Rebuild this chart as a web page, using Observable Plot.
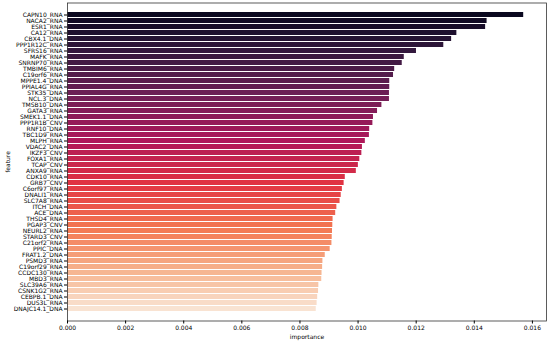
<!DOCTYPE html>
<html><head><meta charset="utf-8">
<script src="https://cdn.jsdelivr.net/npm/d3@7"></script>
<script src="https://cdn.jsdelivr.net/npm/@observablehq/plot@0.6"></script>
<style>body{margin:0;background:#fff}</style>
</head><body><div id="chart"></div>
<script>
const features = ["CAPN10_RNA","NACA2_RNA","ESR1_RNA","CA12_RNA","CBX4.1_DNA","PPP1R12C_RNA","SFRS16_RNA","MAFK_RNA","SNRNP70_RNA","TMBIM6_RNA","C19orf6_RNA","MPPE1.4_DNA","PPIAL4G_RNA","STK35_DNA","NCL.3_DNA","TMSB10_DNA","GATA3_RNA","SMEK1.1_DNA","PPP1R1B_CNV","RNF10_DNA","TBC1D9_RNA","MLPH_RNA","VDAC2_DNA","IKZF3_CNV","FOXA1_RNA","TCAP_CNV","ANXA9_RNA","CDK10_RNA","GRB7_CNV","C6orf97_RNA","DNALI1_RNA","SLC7A8_RNA","ITCH_DNA","ACE_DNA","THSD4_RNA","PGAP3_CNV","NEURL2_RNA","STARD3_CNV","C21orf2_RNA","PPIC_DNA","FRAT1.2_DNA","PSMD3_RNA","C19orf29_RNA","CCDC130_RNA","MBD3_RNA","SLC39A6_RNA","CSNK1G2_RNA","CEBPB.1_DNA","DUS3L_RNA","DNAJC14.1_DNA"];
const importance = [0.01570,0.01444,0.01439,0.01340,0.01322,0.01295,0.01201,0.01159,0.01152,0.01126,0.01122,0.01109,0.01109,0.01108,0.01108,0.01082,0.01067,0.01053,0.01051,0.01040,0.01039,0.01025,0.01015,0.01013,0.01006,0.01001,0.00994,0.00956,0.00952,0.00946,0.00942,0.00938,0.00927,0.00923,0.00914,0.00913,0.00912,0.00911,0.00910,0.00904,0.00887,0.00879,0.00878,0.00876,0.00875,0.00865,0.00864,0.00861,0.00859,0.00856];
const xTicks = [0,0.002,0.004,0.006,0.008,0.010,0.012,0.014,0.016];
const rocketStops = ["#03051a","#35193e","#701f57","#ad1759","#e13342","#f37651","#f6b48f","#faebdd"];

const rocket = d3.piecewise(d3.interpolateRgb, rocketStops);
const colors = features.map((f, i) => rocket((i + 1) / (features.length + 1)));
const data = features.map((f, i) => ({feature: f, importance: importance[i]}));
const xMax = d3.max(importance) * 1.05;

const chart = Plot.plot({
  width: 550, height: 345,
  marginLeft: 67, marginRight: 4, marginTop: 2.5, marginBottom: 24.5,
  style: {fontFamily: "DejaVu Sans", fontSize: "6px", background: "#fff", color: "#000"},
  x: {domain: [0, xMax]},
  y: {domain: features, paddingInner: 0.2, paddingOuter: 0.1},
  color: {domain: features, range: colors},
  marks: [
    Plot.barX(data, {x: "importance", y: "feature", fill: "feature"}),
    Plot.frame({stroke: "#333", strokeWidth: 0.8}),
    Plot.axisX({ticks: xTicks, tickFormat: d3.format(".3f"), tickSize: 3, tickPadding: 2, label: "importance", labelAnchor: "center", labelArrow: "none", labelOffset: 18}),
    Plot.axisY({tickSize: 3, tickPadding: 2, label: "feature", labelAnchor: "center", labelArrow: "none", labelOffset: 62})
  ]
});
document.getElementById("chart").append(chart);
</script>
</body></html>
